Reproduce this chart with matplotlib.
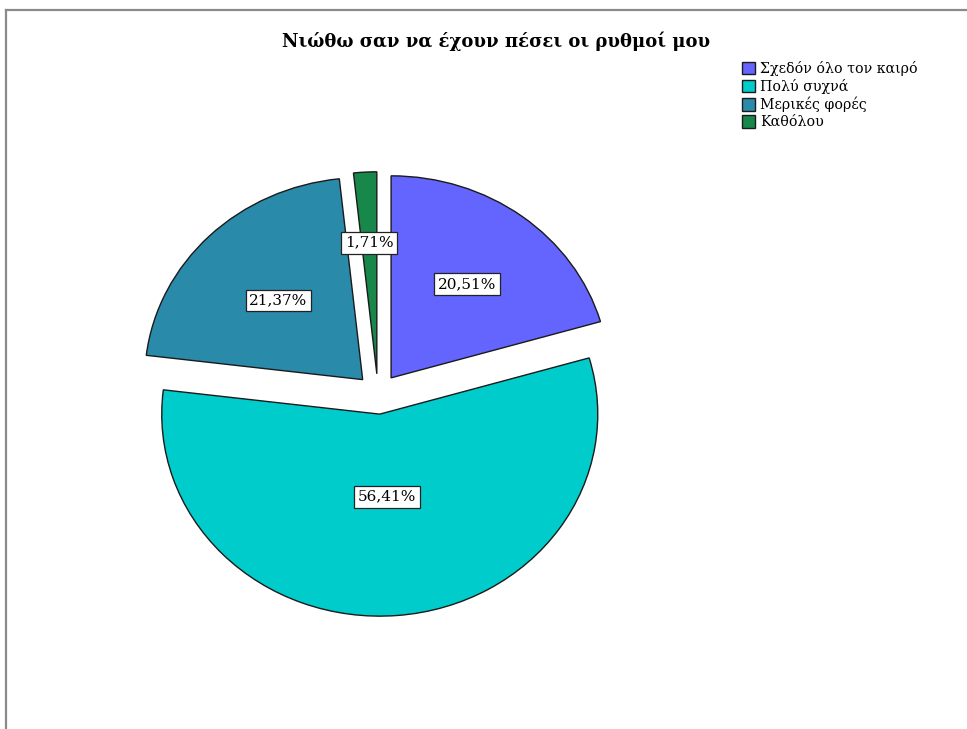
import matplotlib
matplotlib.use('Agg')
import matplotlib.pyplot as plt
from matplotlib.lines import Line2D
import numpy as np

title = 'Νιώθω σαν να έχουν πέσει οι ρυθμοί μου'
categories = ['Σχεδόν όλο τον καιρό', 'Πολύ συχνά', 'Μερικές φορές', 'Καθόλου']
percents = [20.51, 56.41, 21.37, 1.71]
colors = ['#6464FF', '#00CCCC', '#2A8AAA', '#17884A']

# distance of each percent label from the pie centre
label_dist = [0.68, 0.51, 0.65, 0.75]

W, H = 967, 729
fig = plt.figure(figsize=(W / 100, H / 100), dpi=100)
fig.patch.set_facecolor('white')

# pie centre and radii in pixels (slightly wider than tall)
cx, cy = 378, 394
rx, ry = 218, 202

ax = fig.add_axes([0, 0, 1, 1])
wedges, _ = ax.pie(percents, colors=colors, startangle=90, counterclock=False,
                   explode=[0.1] * len(percents), radius=1.0,
                   wedgeprops=dict(edgecolor='#1a1a1a', linewidth=1.0))
ax.set_aspect('auto')
ax.set_xlim(-cx / rx, (W - cx) / rx)
ax.set_ylim(-(H - cy) / ry, cy / ry)
ax.axis('off')

for w, p, d in zip(wedges, percents, label_dist):
    mid = np.deg2rad((w.theta1 + w.theta2) / 2)
    ax.text(d * np.cos(mid), d * np.sin(mid), ('%.2f%%' % p).replace('.', ','),
            ha='center', va='center', fontsize=11, family='DejaVu Serif',
            bbox=dict(boxstyle='square,pad=0.25', facecolor='white',
                      edgecolor='#222222', linewidth=0.9))

fig.text(496 / W, 1 - 41 / H, title, ha='center', va='center',
         fontsize=13, fontweight='bold', family='DejaVu Serif')

leg = fig.legend(wedges, categories, loc='upper left',
                 bbox_to_anchor=(732 / W, 1 - 51 / H), frameon=False,
                 prop=dict(family='DejaVu Serif', size=10.2),
                 handlelength=0.9, handleheight=1.0, handletextpad=0.4,
                 labelspacing=0.2, borderpad=0.2)

# outer frame lines along top and left
fig.add_artist(Line2D([6 / W, 1], [1 - 10 / H, 1 - 10 / H], color='#8a8a8a',
                      linewidth=1.6, transform=fig.transFigure))
fig.add_artist(Line2D([6 / W, 6 / W], [0, 1 - 10 / H], color='#8a8a8a',
                      linewidth=1.6, transform=fig.transFigure))

fig.savefig('out.png', dpi=100)
